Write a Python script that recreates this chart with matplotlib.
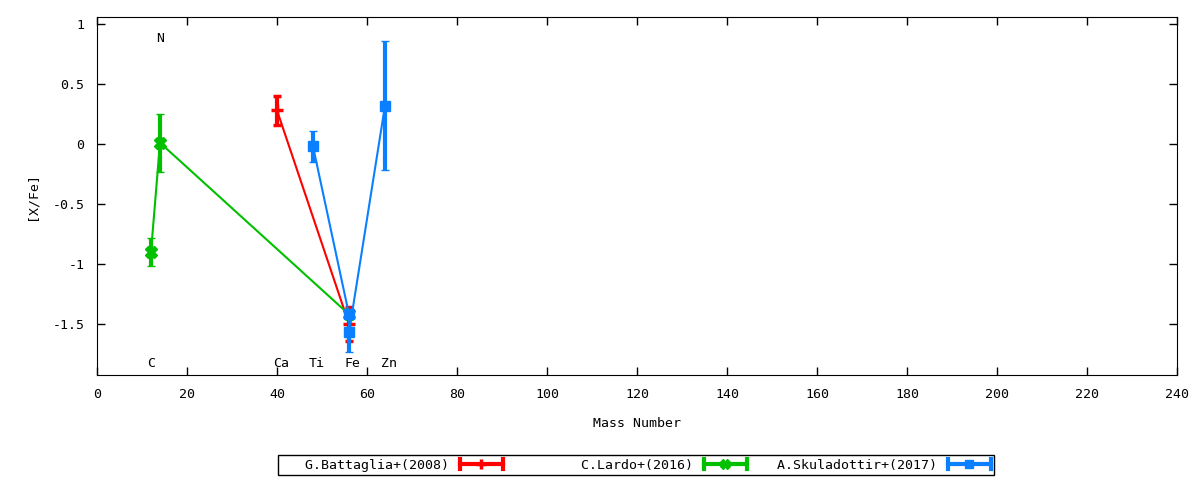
import matplotlib
matplotlib.use('Agg')
import matplotlib.pyplot as plt
from matplotlib.legend_handler import HandlerBase
from matplotlib.lines import Line2D
import numpy as np

plt.rcParams['font.family'] = ['DejaVu Sans Mono']
plt.rcParams['font.size'] = 9.5
plt.rcParams['axes.unicode_minus'] = False

# Battaglia+(2008): Ca, Fe
bat_mass = [40, 56]
bat_val = [0.28, -1.50]
bat_err = [0.12, 0.14]

# Lardo+(2016): C, N, Fe
lar_mass = [12, 14, 56]
lar_val = [-0.90, 0.01, -1.42]
lar_err = [0.12, 0.24, 0.04]

# Skuladottir+(2017): Ti, Fe, Fe, Zn
sku_mass = [48, 56, 56, 64]
sku_val = [-0.02, -1.42, -1.57, 0.32]
sku_err = [0.13, 0.04, 0.16, 0.54]

elem_names = ['C', 'N', 'Ca', 'Ti', 'Fe', 'Zn']
elem_mass = [12, 14, 40, 48, 56, 64]
elem_ypos = [-1.83, 0.88, -1.83, -1.83, -1.83, -1.83]

labels = ['G.Battaglia+(2008)', 'C.Lardo+(2016)', 'A.Skuladottir+(2017)']
colors = ['#ff0000', '#00c000', '#0a80ff']
markers = ['+', 'X', 's']


class GnuHandler(HandlerBase):
	# gnuplot style key sample: line with end caps and a point in the middle
	def create_artists(self, legend, orig_handle, xdescent, ydescent, width, height, fontsize, trans):
		c = orig_handle.get_color()
		m = orig_handle.get_marker()
		y = height / 2 - ydescent
		x0 = -xdescent
		x1 = width - xdescent
		h = 3.5
		arts = [
			Line2D([x0, x1], [y, y], color=c, lw=3),
			Line2D([x0, x0], [y - h, y + h], color=c, lw=3),
			Line2D([x1, x1], [y - h, y + h], color=c, lw=3),
			Line2D([(x0 + x1) / 2], [y], color=c, marker=m, ms=orig_handle.get_markersize(),
				mew=orig_handle.get_markeredgewidth(), ls='none'),
		]
		for a in arts:
			a.set_transform(trans)
		return arts


def main():
	fig = plt.figure(figsize=(12, 4.8), dpi=100)
	ax = fig.add_axes([97 / 1200, 1 - 375 / 480, 1080 / 1200, 358 / 480])

	series = [(bat_mass, bat_val, bat_err), (lar_mass, lar_val, lar_err), (sku_mass, sku_val, sku_err)]
	handles = []
	for (mass, val, err), c, m in zip(series, colors, markers):
		ms = 7 if m == 's' else 8
		mew = 2.5 if m == '+' else 1
		ax.errorbar(mass, val, yerr=err, color=c, lw=1.5, elinewidth=3, capsize=3, capthick=3,
			marker=m, ms=ms, mew=mew, zorder=3)
		handles.append(Line2D([], [], color=c, marker=m, ms=ms - 1, mew=mew))

	for name, mx, my in zip(elem_names, elem_mass, elem_ypos):
		ax.annotate(name, (mx, my), xytext=(-3, 0), textcoords='offset points', ha='left', va='center')

	ax.set_xlim(0, 240)
	ax.set_ylim(-1.925, 1.058)
	ax.set_xticks(np.arange(0, 241, 20))
	ax.set_yticks([-1.5, -1, -0.5, 0, 0.5, 1])
	ax.set_yticklabels(['-1.5', '-1', '-0.5', '0', '0.5', '1'])
	ax.tick_params(direction='in', length=6, width=1, top=True, right=True, pad=9)
	ax.set_xlabel('Mass Number', labelpad=12)
	ax.set_ylabel('[X/Fe]', labelpad=10)

	width = max(len(l) for l in labels) + 1
	leg = fig.legend(handles, [l.rjust(width) for l in labels], handler_map={Line2D: GnuHandler()},
		loc='center', bbox_to_anchor=(636 / 1200, 1 - 465 / 480), ncol=3, markerfirst=False,
		frameon=True, fancybox=False, edgecolor='black', framealpha=1, handlelength=3.26,
		handletextpad=0.76, columnspacing=1.74, borderpad=0.3)
	leg.get_frame().set_linewidth(1)

	plt.savefig('out.png', dpi=100)


if __name__ == "__main__":
	main()
